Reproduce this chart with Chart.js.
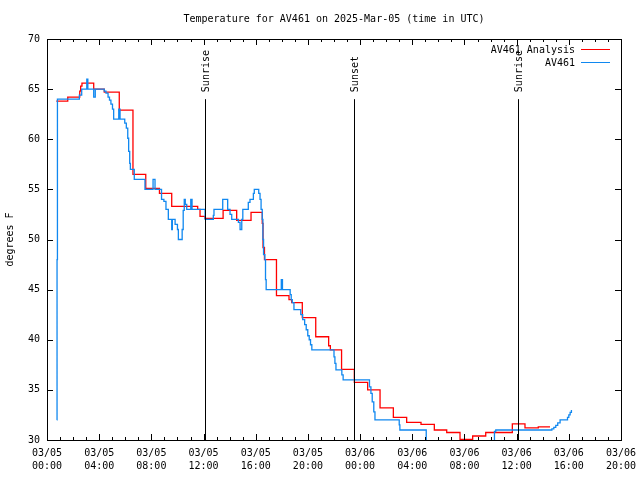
<!DOCTYPE html>
<html lang="en">
<head>
<meta charset="UTF-8">
<title>Temperature for AV461</title>
<script src="https://cdn.jsdelivr.net/npm/chart.js"></script>
<style>
  body { margin: 0; background: #fff; }
</style>
</head>
<body>
<canvas id="myChart" width="640" height="480"></canvas>
<script>
// hours since 03/05 00:00 UTC, value holds until the next change
const analysisHours = [0.71, 1.59, 2.51, 2.58, 2.68, 3.58, 4.39, 5.54, 6.59, 7.57, 8.62, 9.56, 11.55, 11.73, 12.11, 13.5,
  14.54, 15.64, 16.5, 16.56, 16.67, 17.59, 18.55, 18.76, 19.57, 20.6, 21.59, 21.72, 22.58, 23.56, 24.58, 25.53,
  26.55, 27.57, 28.67, 29.69, 30.64, 31.66, 32.63, 33.63, 35.67, 36.64, 37.66, 38.56];
const analysisTemps = [63.8, 64.2, 64.8, 65.3, 65.6, 65.0, 64.7, 62.9, 56.5, 55.1, 54.6, 53.3, 53.0, 52.3, 52.1, 52.9,
  51.9, 52.7, 51.6, 49.2, 48.0, 44.4, 44.0, 43.7, 42.2, 40.3, 39.4, 39.0, 37.05, 35.75, 35.0, 33.2,
  32.25, 31.75, 31.55, 31.0, 30.75, 30.05, 30.4, 30.75, 31.6, 31.2, 31.3, 31.3];

const stationHours = [0.75, 0.77, 0.8, 2.48, 2.66, 3.05, 3.13, 3.58, 3.7, 4.39, 4.52, 4.68, 4.79, 4.9, 5.02, 5.11,
  5.5, 5.6, 5.96, 6.08, 6.19, 6.26, 6.34, 6.39, 6.69, 7.51, 8.13, 8.28, 8.78, 8.96, 9.12, 9.3, 9.56, 9.61, 9.82,
  10.0, 10.07, 10.36, 10.44, 10.52, 10.6, 10.71, 11.02, 11.12, 12.12, 12.75, 12.8, 13.47, 13.85, 14.03, 14.16,
  14.67, 14.8, 14.93, 15.01, 15.43, 15.56, 15.82, 15.89, 16.23, 16.33, 16.41, 16.5, 16.55, 16.6, 16.7, 16.75,
  16.8, 17.96, 18.05, 18.64, 18.72, 18.8, 18.93, 19.45, 19.6, 19.75, 19.87, 19.99, 20.1, 20.2, 20.3, 22.0, 22.07,
  22.15, 22.6, 22.7, 24.72, 24.83, 24.93, 25.05, 25.14, 27.0, 27.05, 29.07, 34.3, 34.4, 38.56, 38.7, 38.85, 39.0,
  39.15, 39.33, 39.8, 39.9, 40.0, 40.1, 40.2];
const stationTemps = [32.0, 48.0, 64.0, 64.4, 65.0, 66.0, 65.0, 64.2, 65.0, 64.8, 64.6, 64.2, 63.9, 63.5, 63.0, 62.0,
  63.0, 62.0, 61.6, 61.1, 60.1, 58.8, 57.6, 57.0, 56.0, 55.0, 56.0, 55.0, 54.0, 53.8, 53.0, 52.0, 51.0, 52.0, 51.5,
  51.0, 50.0, 51.0, 52.9, 54.0, 53.5, 53.0, 54.0, 53.0, 52.0, 52.4, 53.0, 54.0, 53.0, 52.5, 52.0,
  51.7, 51.0, 52.0, 53.0, 53.7, 54.0, 54.6, 55.0, 54.6, 54.0, 53.0, 52.0, 50.0, 48.5, 48.0, 46.0,
  45.0, 46.0, 45.0, 44.5, 44.0, 43.7, 43.0, 42.5, 42.0, 41.5, 41.0, 40.4, 40.0, 39.5, 39.0, 38.3, 37.65,
  37.0, 36.5, 36.0, 35.3, 34.65, 33.8, 32.8, 32.0, 31.5, 31.0, 29.0, 30.85, 31.0, 31.0, 31.1, 31.25, 31.45,
  31.7, 32.0, 32.0, 32.25, 32.5, 32.75, 33.0];

const eventNames = ['Sunrise', 'Sunset', 'Sunrise'];
const eventHours = [12.1, 23.53, 36.1];
const eventTop = 64;

const yMin = 30, yMax = 70, yStep = 5;
const xMin = 0, xMax = 44;
const dayLabels = ['03/05', '03/06'];

const seriesNames = ['AV461 Analysis', 'AV461'];
const seriesColors = ['#ff0000', '#1088f0'];

const FONT = '10px "DejaVu Sans Mono", monospace';

function toPoints(hours, temps) {
  return hours.map((h, i) => ({ x: h, y: temps[i] }));
}

// frame, inward ticks, sun events, title and legend drawn like gnuplot
const gnuplotFrame = {
  id: 'gnuplotFrame',
  afterDatasetsDraw(chart) {
    const { ctx, chartArea: a, scales: { x, y } } = chart;
    ctx.save();
    ctx.strokeStyle = '#000';
    ctx.lineWidth = 1;
    ctx.beginPath();
    x.ticks.forEach(t => {
      const px = Math.round(x.getPixelForValue(t.value)) + 0.5;
      const len = t.value % 4 === 0 ? 6 : 3;
      ctx.moveTo(px, a.bottom); ctx.lineTo(px, a.bottom - len);
      ctx.moveTo(px, a.top); ctx.lineTo(px, a.top + len);
    });
    y.ticks.forEach(t => {
      const py = Math.round(y.getPixelForValue(t.value)) + 0.5;
      ctx.moveTo(a.left, py); ctx.lineTo(a.left + 6, py);
      ctx.moveTo(a.right, py); ctx.lineTo(a.right - 6, py);
    });
    // sunrise / sunset lines
    const topPy = y.getPixelForValue(eventTop);
    eventHours.forEach(h => {
      const px = Math.round(x.getPixelForValue(h)) + 0.5;
      ctx.moveTo(px, topPy); ctx.lineTo(px, a.bottom);
    });
    ctx.stroke();
    ctx.strokeRect(a.left + 0.5, a.top + 0.5, a.right - a.left, a.bottom - a.top);

    ctx.fillStyle = '#000';
    ctx.font = FONT;
    eventNames.forEach((name, i) => {
      const px = Math.round(x.getPixelForValue(eventHours[i])) + 1;
      ctx.save();
      ctx.translate(px, topPy - 7);
      ctx.rotate(-Math.PI / 2);
      ctx.textAlign = 'left';
      ctx.textBaseline = 'middle';
      ctx.fillText(name, 0, 0);
      ctx.restore();
    });

    // title
    ctx.textAlign = 'center';
    ctx.textBaseline = 'middle';
    ctx.fillText('Temperature for AV461 on 2025-Mar-05 (time in UTC)', (a.left + a.right) / 2, 19);

    // y axis title
    ctx.save();
    ctx.translate(10, (a.top + a.bottom) / 2);
    ctx.rotate(-Math.PI / 2);
    ctx.fillText('degrees F', 0, 0);
    ctx.restore();

    // legend
    ctx.textAlign = 'right';
    seriesNames.forEach((name, i) => {
      const ly = 50 + i * 13;
      ctx.fillStyle = '#000';
      ctx.fillText(name, 575, ly);
      ctx.strokeStyle = seriesColors[i];
      ctx.beginPath();
      ctx.moveTo(581, ly - 0.5);
      ctx.lineTo(610, ly - 0.5);
      ctx.stroke();
    });
    ctx.restore();
  }
};

const ctx = document.getElementById('myChart').getContext('2d');
const myChart = new Chart(ctx, {
  type: 'line',
  data: {
    datasets: [{
      label: seriesNames[0],
      data: toPoints(analysisHours, analysisTemps),
      borderColor: seriesColors[0],
      borderWidth: 1.3,
      pointRadius: 0,
      stepped: true,
      fill: false,
      order: 2
    }, {
      label: seriesNames[1],
      data: toPoints(stationHours, stationTemps),
      borderColor: seriesColors[1],
      borderWidth: 1.3,
      pointRadius: 0,
      stepped: true,
      fill: false,
      order: 1
    }]
  },
  options: {
    responsive: false,
    animation: false,
    layout: { padding: { top: 39, right: 19, left: 0, bottom: 0 } },
    plugins: { legend: { display: false }, tooltip: { enabled: false } },
    scales: {
      x: {
        type: 'linear',
        min: xMin,
        max: xMax,
        grid: { display: false, drawTicks: false },
        border: { display: false },
        afterFit: s => { s.height = 40; s.paddingRight = 0; s.paddingLeft = 0; },
        ticks: {
          stepSize: 1,
          maxTicksLimit: 100,
          autoSkip: false,
          maxRotation: 0,
          padding: 7,
          color: '#000',
          font: { family: '"DejaVu Sans Mono", monospace', size: 10, lineHeight: 1.3 },
          callback: v => v % 4 === 0
            ? [dayLabels[Math.floor(v / 24)], String(v % 24).padStart(2, '0') + ':00']
            : ''
        }
      },
      y: {
        min: yMin,
        max: yMax,
        grid: { display: false, drawTicks: false },
        border: { display: false },
        afterFit: s => { s.width = 47; },
        ticks: {
          stepSize: yStep,
          padding: 7,
          color: '#000',
          font: { family: '"DejaVu Sans Mono", monospace', size: 10 }
        }
      }
    }
  },
  plugins: [gnuplotFrame]
});
</script>
</body>
</html>
